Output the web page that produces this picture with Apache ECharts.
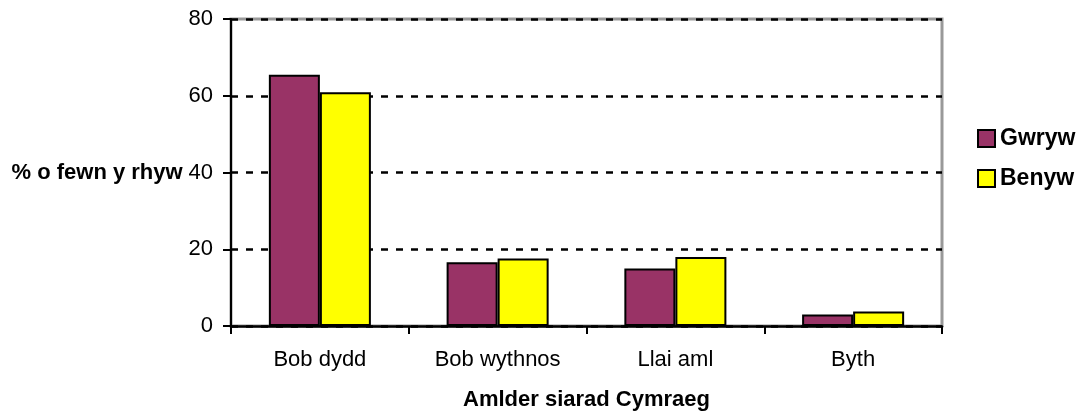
<!DOCTYPE html>
<html>
<head>
<meta charset="utf-8">
<script src="https://cdn.jsdelivr.net/npm/echarts@6/dist/echarts.min.js"></script>
<style>
  html, body { margin: 0; padding: 0; background: #fff; }
  #main { width: 1083px; height: 412px; }
</style>
</head>
<body>
<div id="main"></div>
<script>
var categories = ['Bob dydd', 'Bob wythnos', 'Llai aml', 'Byth'];
var gwryw = [65.5, 16.6, 15.0, 3.0];
var benyw = [60.9, 17.6, 18.0, 3.8];
var yTicks = [0, 20, 40, 60, 80];

var myChart = echarts.init(document.getElementById('main'));
var FONT = '"Liberation Sans", Arial, sans-serif';

var option = {
    backgroundColor: '#fff',
    animation: false,
    textStyle: { fontFamily: FONT, color: '#000' },
    grid: {
        left: 231, top: 19, right: 141, bottom: 86,
        outerBoundsMode: 'none',
        containLabel: false,
        show: true,
        borderColor: '#999',
        borderWidth: 3
    },
    legend: {
        orient: 'vertical',
        left: 972,
        top: 122,
        itemWidth: 17,
        itemHeight: 17,
        itemGap: 17,
        icon: 'rect',
        textStyle: { fontSize: 23, fontWeight: 'bold', color: '#000', fontFamily: FONT },
        data: ['Gwryw', 'Benyw']
    },
    xAxis: {
        type: 'category',
        z: 5,
        data: categories,
        name: 'Amlder siarad Cymraeg',
        nameLocation: 'middle',
        nameGap: 63,
        nameTextStyle: { fontSize: 22, fontWeight: 'bold', color: '#000', fontFamily: FONT },
        axisLine: { lineStyle: { color: '#000', width: 2.5 } },
        axisTick: { show: true, length: 8, lineStyle: { color: '#000', width: 2 } },
        axisLabel: { fontSize: 22, color: '#000', margin: 23, fontFamily: FONT }
    },
    yAxis: {
        type: 'value',
        min: yTicks[0],
        max: yTicks[yTicks.length - 1],
        interval: 20,
        name: '% o fewn y rhyw',
        nameLocation: 'middle',
        nameRotate: 0,
        nameGap: 48,
        nameTextStyle: { fontSize: 22, fontWeight: 'bold', color: '#000', align: 'right', verticalAlign: 'middle', fontFamily: FONT },
        axisLine: { show: true, lineStyle: { color: '#000', width: 2 } },
        axisTick: { show: true, length: 8, lineStyle: { color: '#000', width: 2 } },
        axisLabel: { fontSize: 22, color: '#000', margin: 18, fontFamily: FONT },
        splitLine: { lineStyle: { color: '#000', width: 2.5, type: [7, 8] } }
    },
    series: [{
        name: 'Gwryw',
        type: 'bar',
        data: gwryw,
        barGap: '0%',
        barCategoryGap: '42.6%',
        itemStyle: { color: '#993366', borderColor: '#000', borderWidth: 2 }
    }, {
        name: 'Benyw',
        type: 'bar',
        data: benyw,
        itemStyle: { color: '#ffff00', borderColor: '#000', borderWidth: 2 }
    }]
};

myChart.setOption(option);
</script>
</body>
</html>
